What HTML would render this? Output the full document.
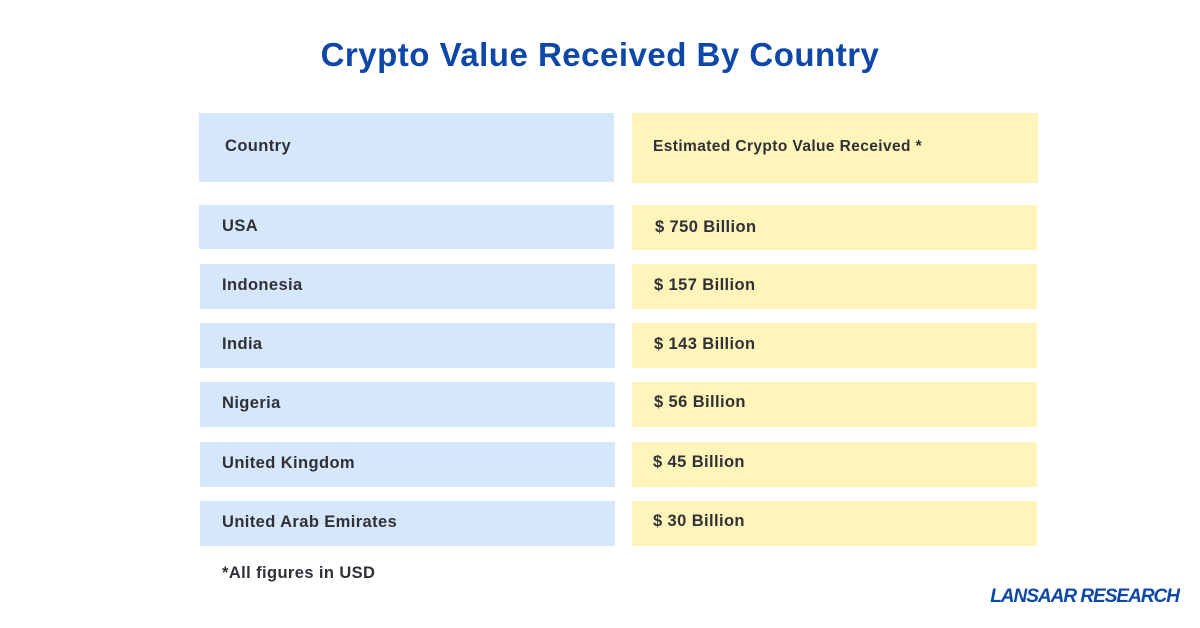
<!DOCTYPE html>
<html><head><style>
body{margin:0;width:1200px;height:628px;background:#fff;position:relative;font-family:"Liberation Sans",sans-serif;overflow:hidden}
.t{position:absolute;left:0;width:1200px;top:36px;text-align:center;font-size:33px;font-weight:bold;color:#0d47a8;letter-spacing:0.5px}
.b{position:absolute;background:#d6e6fb}
.y{position:absolute;background:#fff4b9}
.l{position:absolute;font-size:16.5px;font-weight:bold;color:#2f3137;white-space:nowrap;letter-spacing:0.4px}
.f{position:absolute;right:21px;top:586px;font-size:19px;font-weight:bold;font-style:italic;color:#0d47a8;letter-spacing:-1px}
</style></head><body>
<div class="t">Crypto Value Received By Country</div>
<div class="b" style="left:199px;top:113px;width:415px;height:69px"></div>
<div class="y" style="left:632px;top:113px;width:406px;height:70px"></div>
<div class="l" style="left:225px;top:137px">Country</div>
<div class="l" style="left:653px;top:138px;font-size:15.5px">Estimated Crypto Value Received *</div>

<div class="b" style="left:199px;top:205px;width:415px;height:44px"></div>
<div class="y" style="left:632px;top:205px;width:405px;height:45px"></div>
<div class="l" style="left:222px;top:217px">USA</div>
<div class="l" style="left:655px;top:218px">$ 750 Billion</div>

<div class="b" style="left:200px;top:264px;width:415px;height:45px"></div>
<div class="y" style="left:632px;top:264px;width:405px;height:45px"></div>
<div class="l" style="left:222px;top:276px">Indonesia</div>
<div class="l" style="left:654px;top:276px">$ 157 Billion</div>

<div class="b" style="left:200px;top:323px;width:415px;height:45px"></div>
<div class="y" style="left:632px;top:323px;width:405px;height:45px"></div>
<div class="l" style="left:222px;top:335px">India</div>
<div class="l" style="left:654px;top:335px">$ 143 Billion</div>

<div class="b" style="left:200px;top:382px;width:415px;height:45px"></div>
<div class="y" style="left:632px;top:382px;width:405px;height:45px"></div>
<div class="l" style="left:222px;top:394px">Nigeria</div>
<div class="l" style="left:654px;top:393px">$ 56 Billion</div>

<div class="b" style="left:200px;top:442px;width:415px;height:45px"></div>
<div class="y" style="left:632px;top:442px;width:405px;height:45px"></div>
<div class="l" style="left:222px;top:454px">United Kingdom</div>
<div class="l" style="left:653px;top:453px">$ 45 Billion</div>

<div class="b" style="left:200px;top:501px;width:415px;height:45px"></div>
<div class="y" style="left:632px;top:501px;width:405px;height:45px"></div>
<div class="l" style="left:222px;top:513px">United Arab Emirates</div>
<div class="l" style="left:653px;top:512px">$ 30 Billion</div>

<div class="l" style="left:222px;top:564px">*All figures in USD</div>
<div class="f">LANSAAR RESEARCH</div>
</body></html>
